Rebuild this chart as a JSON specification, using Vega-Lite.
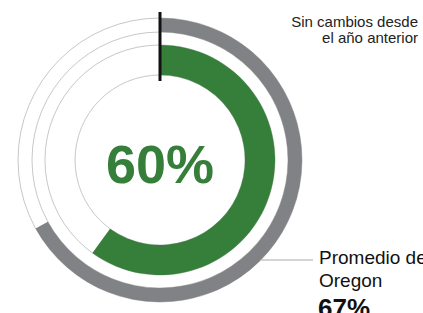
{
  "$schema": "https://vega.github.io/schema/vega-lite/v6.json",
  "width": 423,
  "height": 313,
  "padding": 0,
  "autosize": {"type": "none"},
  "background": "white",
  "config": {"view": {"stroke": null}, "font": "Liberation Sans"},
  "encoding": {
    "x": {"datum": 0, "type": "quantitative", "scale": {"domain": [-160, 263], "nice": false, "zero": false}, "axis": null},
    "y": {"datum": 0, "type": "quantitative", "scale": {"domain": [-153, 160], "nice": false, "zero": false}, "axis": null}
  },
  "layer": [
    {
      "data": {"values": [{"start": 0, "end": 100}]},
      "mark": {"type": "arc", "radius": 142, "radius2": 128, "filled": false, "stroke": "#c8c8c8", "strokeWidth": 1},
      "encoding": {
        "theta": {"field": "start", "type": "quantitative", "stack": null, "scale": {"domain": [0, 100]}},
        "theta2": {"field": "end"}
      }
    },
    {
      "data": {"values": [{"start": 0, "end": 100}]},
      "mark": {"type": "arc", "radius": 115, "radius2": 85, "filled": false, "stroke": "#c8c8c8", "strokeWidth": 1},
      "encoding": {
        "theta": {"field": "start", "type": "quantitative", "stack": null, "scale": {"domain": [0, 100]}},
        "theta2": {"field": "end"}
      }
    },
    {
      "data": {"values": [{"serie": "Promedio de Oregon", "start": 0, "end": 67}]},
      "mark": {"type": "arc", "radius": 142, "radius2": 128, "fill": "#808285", "stroke": null},
      "encoding": {
        "theta": {"field": "start", "type": "quantitative", "stack": null, "scale": {"domain": [0, 100]}},
        "theta2": {"field": "end"}
      }
    },
    {
      "data": {"values": [{"serie": "Escuela", "start": 0, "end": 60}]},
      "mark": {"type": "arc", "radius": 115, "radius2": 85, "fill": "#357f3a", "stroke": null},
      "encoding": {
        "theta": {"field": "start", "type": "quantitative", "stack": null, "scale": {"domain": [0, 100]}},
        "theta2": {"field": "end"}
      }
    },
    {
      "data": {"values": [{}]},
      "mark": {"type": "rule", "color": "#111111", "strokeWidth": 3},
      "encoding": {
        "x": {"datum": 0, "type": "quantitative"},
        "y": {"datum": 148, "type": "quantitative"},
        "y2": {"datum": 79}
      }
    },
    {
      "data": {"values": [{}]},
      "mark": {"type": "rule", "color": "#aaaaaa", "strokeWidth": 1.2},
      "encoding": {
        "x": {"datum": 100, "type": "quantitative"},
        "x2": {"datum": 153},
        "y": {"datum": -100, "type": "quantitative"}
      }
    },
    {
      "data": {"values": [{"label": "60%"}]},
      "mark": {"type": "text", "align": "center", "baseline": "alphabetic", "fontSize": 54, "fontWeight": "bold", "color": "#357f3a"},
      "encoding": {
        "x": {"datum": 0, "type": "quantitative"},
        "y": {"datum": -23, "type": "quantitative"},
        "text": {"field": "label"}
      }
    },
    {
      "data": {"values": [{"label": "Sin cambios desde"}]},
      "mark": {"type": "text", "align": "right", "baseline": "alphabetic", "fontSize": 15, "color": "#222222"},
      "encoding": {
        "x": {"datum": 258, "type": "quantitative"},
        "y": {"datum": 133, "type": "quantitative"},
        "text": {"field": "label"}
      }
    },
    {
      "data": {"values": [{"label": "el año anterior"}]},
      "mark": {"type": "text", "align": "right", "baseline": "alphabetic", "fontSize": 15, "color": "#222222"},
      "encoding": {
        "x": {"datum": 258, "type": "quantitative"},
        "y": {"datum": 117, "type": "quantitative"},
        "text": {"field": "label"}
      }
    },
    {
      "data": {"values": [{"label": "Promedio de"}]},
      "mark": {"type": "text", "align": "left", "baseline": "alphabetic", "fontSize": 19, "color": "#111111"},
      "encoding": {
        "x": {"datum": 159, "type": "quantitative"},
        "y": {"datum": -104, "type": "quantitative"},
        "text": {"field": "label"}
      }
    },
    {
      "data": {"values": [{"label": "Oregon"}]},
      "mark": {"type": "text", "align": "left", "baseline": "alphabetic", "fontSize": 19, "color": "#111111"},
      "encoding": {
        "x": {"datum": 159, "type": "quantitative"},
        "y": {"datum": -127, "type": "quantitative"},
        "text": {"field": "label"}
      }
    },
    {
      "data": {"values": [{"label": "67%"}]},
      "mark": {"type": "text", "align": "left", "baseline": "alphabetic", "fontSize": 26, "fontWeight": "bold", "color": "#111111"},
      "encoding": {
        "x": {"datum": 158, "type": "quantitative"},
        "y": {"datum": -157, "type": "quantitative"},
        "text": {"field": "label"}
      }
    }
  ]
}
